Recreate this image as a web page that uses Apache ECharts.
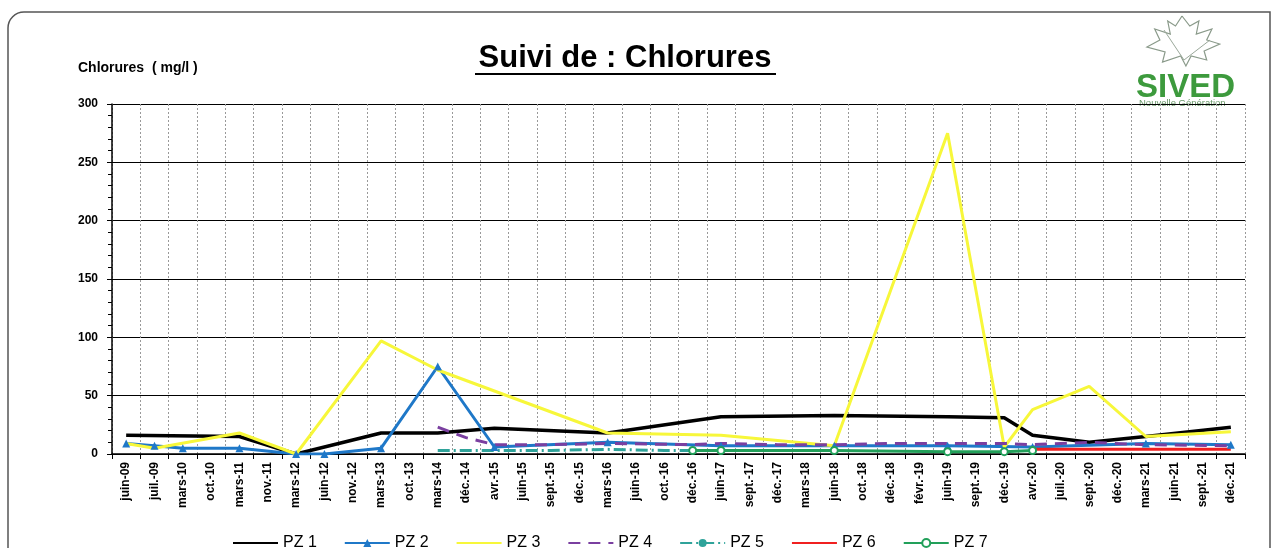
<!DOCTYPE html>
<html><head><meta charset="utf-8">
<script src="https://cdn.jsdelivr.net/npm/echarts@6/dist/echarts.min.js"></script>
<style>html,body{margin:0;padding:0;background:#fff;}#c{width:1273px;height:548px;}</style>
</head><body><div id="c"></div>
<script>
const categories = ['juin-09','juil.-09','mars-10','oct.-10','mars-11','nov.-11','mars-12','juin-12','nov.-12','mars-13','oct.-13','mars-14','déc.-14','avr.-15','juin-15','sept.-15','déc.-15','mars-16','juin-16','oct.-16','déc.-16','juin-17','sept.-17','déc.-17','mars-18','juin-18','oct.-18','déc.-18','févr.-19','juin-19','sept.-19','déc.-19','avr.-20','juil.-20','sept.-20','déc.-20','mars-21','juin-21','sept.-21','déc.-21'];
const _ = null;
const pz1 = [16,_,_,_,15,_,0,_,_,18,_,18,_,22,_,_,_,18,_,_,_,32,_,_,_,33,_,_,_,32,_,31,16,_,10,_,15,_,_,23];
const pz2 = [9,7,5,_,5,_,0,0,_,5,_,75,_,6,_,_,_,10,_,_,_,7,_,_,_,7,_,_,_,7,_,_,6,_,_,_,9,_,_,8];
const pz3 = [9,5,_,_,18,_,0,_,_,97,_,72,_,_,_,_,_,18,_,_,_,16,_,_,_,7,_,_,_,275,_,6,38,_,58,_,15,_,_,19];
const pz4 = [_,_,_,_,_,_,_,_,_,_,_,23,14,8,_,8,_,9,_,_,8,9,_,8,_,8,_,9,_,9,_,9,8,_,10,_,8,_,_,7];
const pz5 = [_,_,_,_,_,_,_,_,_,_,_,3,3,3,_,3,_,4,_,3,3,_,_,_,_,_,_,_,_,_,_,_,_,_,_,_,_,_,_,_];
const pz6 = [_,_,_,_,_,_,_,_,_,_,_,_,_,_,_,_,_,_,_,_,_,_,_,_,_,_,_,_,_,_,_,_,4,_,4,_,4,_,_,4];
const pz7 = [_,_,_,_,_,_,_,_,_,_,_,_,_,_,_,_,_,_,_,_,3,3,_,_,_,3,_,_,_,2,_,2,3,_,_,_,_,_,_,_];
const seriesNames = ['PZ 1','PZ 2','PZ 3','PZ 4','PZ 5','PZ 6','PZ 7'];
const yTicks = [0,50,100,150,200,250,300];

const chart = echarts.init(document.getElementById('c'), null, {renderer:'canvas'});
const F = 'Arial, "Liberation Sans", sans-serif';
function mk(name, data, color, opts){
  return Object.assign({
    name, type:'line', data, connectNulls:true, showSymbol:false, symbol:'none',
    lineStyle:{color, width:3}, itemStyle:{color}, animation:false, z:2
  }, opts||{});
}
const hideSym = {opacity:0};
const leaf = [[0,-28],[6,-18],[13,-23],[11,-10],[23,-15],[19,-4],[29,0],[17,7],[19,16],[7,12],[3,22],[-1,12],[-15,18],[-13,8],[-27,3],[-17,-4],[-21,-15],[-9,-10],[-11,-23],[-5,-18],[0,-28]].map(p=>[1182+p[0]*1.3, 44+p[1]*1.0]);
chart.setOption({
  backgroundColor:'#fff',
  animation:false,
  grid:{left:112, right:28, top:104, bottom:94, containLabel:false},
  legend:{
    data:[
      {name:seriesNames[0], itemStyle:hideSym},
      {name:seriesNames[1]},
      {name:seriesNames[2], itemStyle:hideSym},
      {name:seriesNames[3], itemStyle:hideSym},
      {name:seriesNames[4]},
      {name:seriesNames[5], itemStyle:hideSym},
      {name:seriesNames[6]}
    ],
    left:227, top:530, itemWidth:45, itemHeight:10, itemGap:27,
    textStyle:{fontFamily:F, fontSize:16, color:'#000'}
  },
  xAxis:{
    type:'category', data:categories, boundaryGap:true,
    axisLine:{lineStyle:{color:'#000', width:1.5}},
    axisTick:{show:true, length:5, lineStyle:{color:'#000'}},
    axisLabel:{rotate:90, interval:0, margin:8, fontFamily:F, fontSize:12, fontWeight:'bold', color:'#000'},
    splitLine:{show:true, lineStyle:{color:'#999', type:[2,2], width:1}}
  },
  yAxis:{
    type:'value', min:0, max:300, interval:50,
    axisLine:{show:true, lineStyle:{color:'#000', width:1.5}},
    axisTick:{show:true, length:5, lineStyle:{color:'#000'}},
    minorTick:{show:true, splitNumber:5, length:4, lineStyle:{color:'#000'}},
    axisLabel:{fontFamily:F, fontSize:12, fontWeight:'bold', color:'#000', margin:14},
    splitLine:{show:true, lineStyle:{color:'#000', width:1}}
  },
  series:[
    mk(seriesNames[0], pz1, '#000000', {lineStyle:{color:'#000', width:3.5}}),
    mk(seriesNames[1], pz2, '#1f78c8', {showSymbol:true, symbol:'triangle', symbolSize:8}),
    mk(seriesNames[2], pz3, '#f7f73a'),
    mk(seriesNames[3], pz4, '#7a3fa0', {lineStyle:{color:'#7a3fa0', width:3, type:[12,8]}}),
    mk(seriesNames[4], pz5, '#2fa39a', {symbol:'circle', symbolSize:4, lineStyle:{color:'#2fa39a', width:3, type:[12,4,2,4]}}),
    mk(seriesNames[5], pz6, '#f02020'),
    mk(seriesNames[6], pz7, '#22a05a', {showSymbol:true, symbol:'emptyCircle', symbolSize:7, itemStyle:{color:'#22a05a', borderWidth:2}})
  ],
  graphic:[
    {type:'rect', shape:{x:8, y:12, width:1262, height:560, r:[16,0,0,0]}, style:{fill:'none', stroke:'#555', lineWidth:1.5}, silent:true},
    {type:'text', x:625, y:58, style:{text:'Suivi de : Chlorures', font:'bold 31px '+F, fill:'#000', textAlign:'center', textVerticalAlign:'middle'}},
    {type:'line', shape:{x1:475, y1:74, x2:776, y2:74}, style:{stroke:'#000', lineWidth:2}},
    {type:'text', left:78, top:61, style:{text:'Chlorures  ( mg/l )', font:'bold 14px '+F, fill:'#000'}},
    {type:'polyline', shape:{points:leaf}, style:{fill:'none', stroke:'#8a9a8a', lineWidth:1.2}},
    {type:'polyline', shape:{points:[[1164,30],[1184,60],[1210,40]]}, style:{fill:'none', stroke:'#9aa89a', lineWidth:1}},
    {type:'text', left:1136, top:71, style:{text:'SIVED', font:'bold 33px '+F, fill:'#3d9a3d'}},
    {type:'text', left:1139, top:98, style:{text:'Nouvelle Génération', font:'9.5px '+F, fill:'#6a9a6a'}}
  ]
});
</script></body></html>
